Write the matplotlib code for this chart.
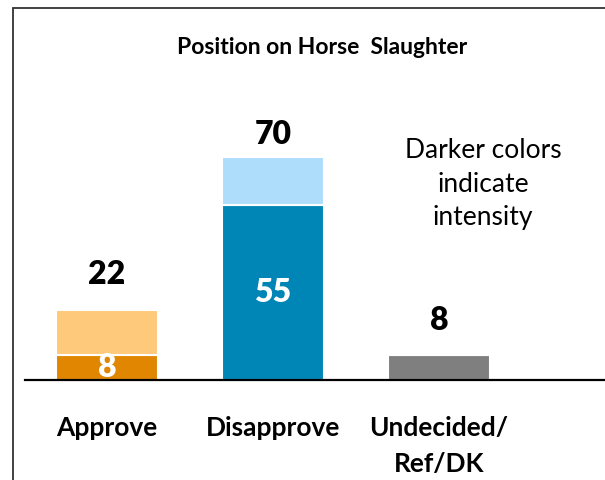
import matplotlib.pyplot as plt
import matplotlib.patches as mpatches

plt.rcParams['font.family'] = ['Lato', 'DejaVu Sans']

categories = ['Approve', 'Disapprove', 'Undecided/\nRef/DK']
strong = [8, 55, 8]
totals = [22, 70, 8]
strong_labels = ['8', '55', '']

dark_colors = ['#E08600', '#0086B6', '#7F7F7F']
light_colors = ['#FFC97C', '#AEDDFB', '#7F7F7F']
label_gap = [21, 8, 20]   # px gap above each bar, as in the original

fig = plt.figure(figsize=(6.05, 4.80), dpi=100)
ax = fig.add_axes([25 / 605, 100 / 480, 580 / 605, 280 / 480])

x = list(range(len(categories)))
width = 0.614
ax.bar(x, strong, width=width, color=dark_colors, edgecolor='white', linewidth=1.5)
rest = [t - s for t, s in zip(totals, strong)]
ax.bar(x, rest, width=width, bottom=strong, color=light_colors,
       edgecolor='white', linewidth=1.5)

ax.set_xlim(-0.494, 3.0)
ax.set_ylim(0, 88)
for s in ['top', 'right', 'left']:
    ax.spines[s].set_visible(False)
ax.spines['bottom'].set_linewidth(1.6)
ax.spines['bottom'].set_color('black')
ax.set_yticks([])
ax.set_xticks(x)
ax.set_xticklabels(categories, fontsize=19, fontweight='bold', linespacing=1.6)
ax.tick_params(axis='x', length=0, pad=26)

for i, (t, s, sl) in enumerate(zip(totals, strong, strong_labels)):
    ax.annotate(str(t), (i, t), xytext=(0, label_gap[i] * 0.72), textcoords='offset points',
                ha='center', va='bottom', fontsize=23, fontweight='heavy')
    if sl:
        ax.text(i, s / 2, sl, ha='center', va='center', color='white',
                fontsize=23, fontweight='heavy')

fig.text(322 / 605, 1 - 48 / 480, 'Position on Horse  Slaughter', ha='center', va='center',
         fontsize=16.5, fontweight='bold')
fig.text(483 / 605, 1 - 184 / 480, 'Darker colors\nindicate\nintensity', ha='center', va='center',
         fontsize=19, linespacing=1.45)

frame = mpatches.Rectangle((13 / 605, -0.2), 2, 1.2 - 8 / 480, transform=fig.transFigure,
                           fill=False, edgecolor='#333333', linewidth=1.3, clip_on=False)
fig.patches.append(frame)

fig.savefig('out.png', dpi=100)
